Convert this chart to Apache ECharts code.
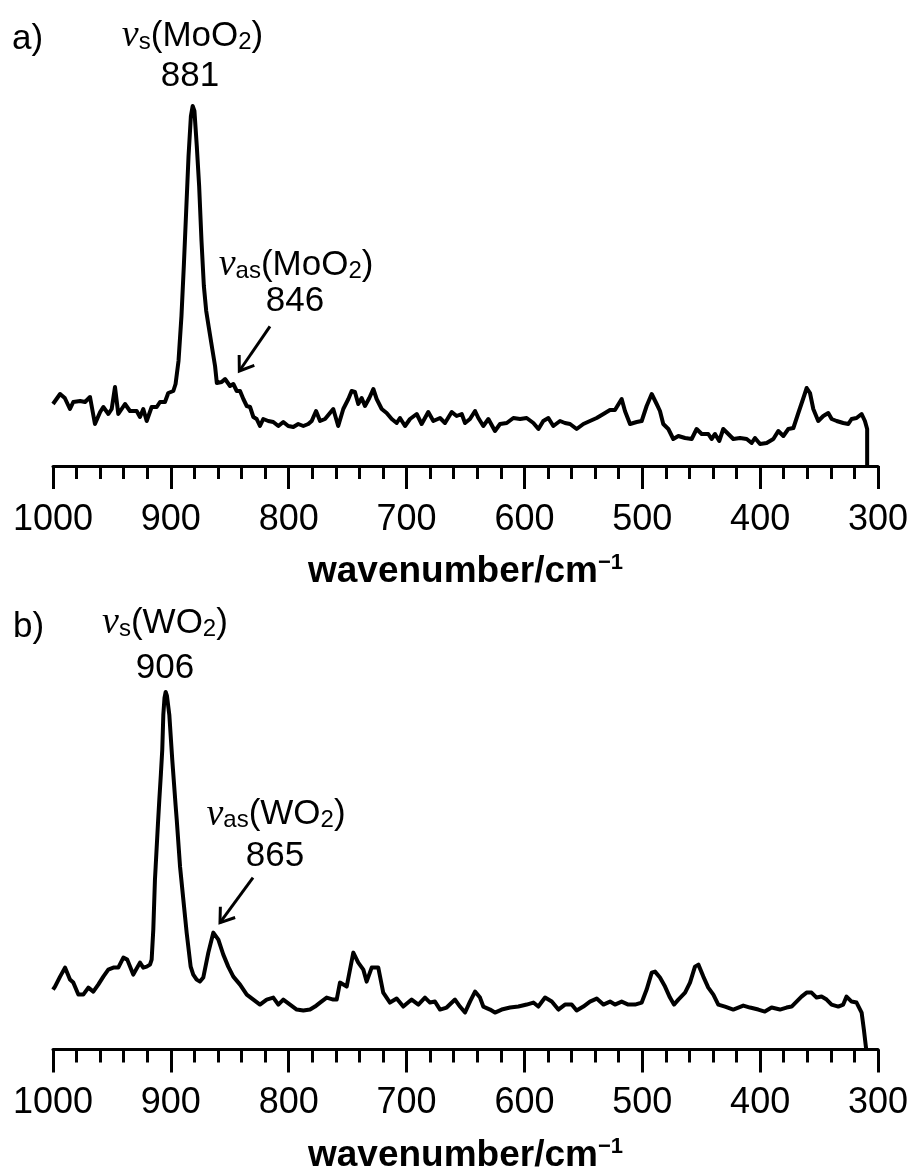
<!DOCTYPE html>
<html>
<head>
<meta charset="utf-8">
<script src="https://cdn.jsdelivr.net/npm/echarts@6/dist/echarts.min.js"></script>
<style>
    html, body { margin: 0; padding: 0; background: #fff; }
    #chart { width: 913px; height: 1175px; }
</style>
</head>
<body>
<div id="chart"></div>
<script>
// wavenumber axis (cm-1), drawn high -> low
var wavenumberTicks = [1000, 900, 800, 700, 600, 500, 400, 300];

// a) Mo complex, [wavenumber, intensity a.u.]
var spectrumMo = [
    [1000, 62], [994, 72], [990, 68], [985.6, 57], [982.8, 64], [977, 65], [972.8, 64], [968.6, 69],
    [964.4, 42], [960, 54], [957.3, 59], [953, 52], [950.2, 57], [947.4, 79], [944.6, 52], [938.9, 62],
    [934.7, 55], [929, 55], [926.2, 49], [923.4, 57], [920.5, 45], [916.3, 59], [912, 59], [909.2, 64],
    [905, 64], [902.2, 73], [897.9, 75], [896, 82], [893.5, 105], [891, 150], [889, 200], [887, 255],
    [885, 310], [883, 350], [881.5, 360], [880, 355], [878, 320], [876, 280], [874, 225], [872, 180],
    [870, 155], [868, 140], [865, 118], [862.5, 100], [861, 83], [856.9, 84], [854, 87], [849.8, 80],
    [847, 82], [844.1, 75], [841.3, 75], [838.5, 67], [835.6, 60], [832.8, 59], [830, 49], [827.2, 47],
    [824.4, 40], [821.6, 47], [817.3, 45], [813.1, 44], [808.8, 40], [804.6, 44], [800.4, 40], [796.1, 39],
    [791.9, 42], [787.6, 40], [783.4, 42], [780.5, 45], [776.8, 55], [773.4, 45], [769.2, 47], [765, 53],
    [762.2, 57], [758, 40], [753.7, 57], [749.4, 67], [746.6, 75], [743.8, 74], [741, 62], [738.1, 68],
    [735.3, 60], [731.6, 68], [728.2, 77], [725.4, 67], [721.1, 57], [716.9, 53], [712.6, 47], [708.4, 43],
    [705.6, 48], [701.3, 40], [697.1, 47], [691.4, 52], [687.2, 42], [681.6, 54], [677.3, 45], [671.6, 48],
    [667.4, 43], [661.7, 54], [657.5, 50], [653.2, 52], [650.4, 43], [646.2, 47], [641.9, 55], [639.1, 48],
    [634.9, 40], [630.6, 47], [625, 35], [620.7, 42], [615, 43], [609.4, 48], [603.7, 47], [598.1, 48],
    [592.4, 43], [588.1, 37], [584, 45], [579.7, 48], [575.5, 40], [569.8, 45], [565.6, 43], [561.3, 42],
    [555.7, 37], [550, 42], [544.4, 45], [538.7, 48], [533, 52], [527.4, 56], [523.2, 56], [517.5, 67],
    [514.7, 55], [510.4, 42], [504.7, 44], [500.5, 45], [496.3, 60], [492, 72], [487.8, 62], [485, 55],
    [482.2, 42], [477.9, 37], [473.7, 27], [469.4, 30], [463.7, 28], [458.1, 27], [453.9, 37], [449.6, 32],
    [444, 32], [441.2, 27], [438.3, 32], [434.7, 25], [431.3, 37], [427, 32], [422.8, 27], [417.1, 28],
    [411.4, 27], [407.2, 23], [404.4, 28], [400.1, 22], [394.5, 23], [388.8, 27], [384.6, 35], [380.3, 30],
    [376.1, 37], [371.8, 38], [367.6, 53], [363.3, 68], [360.5, 78], [357.7, 73], [354.9, 57], [350.7, 45],
    [346.4, 50], [342.2, 53], [339.3, 47], [335.1, 45], [329.5, 43], [325.2, 42], [322.4, 47], [318.2, 48],
    [313.9, 52], [311.1, 45], [309.2, 37], [309.2, 0]
];

// b) W complex
var spectrumW = [
    [1000, 60], [998.3, 63], [994, 73], [989.8, 82], [985.6, 70], [982.8, 67], [978.5, 55], [974.3, 55],
    [970, 62], [965.8, 58], [961.6, 65], [957.3, 73], [953.1, 80], [948.8, 82], [944.6, 82], [940.3, 92],
    [937, 90], [931.9, 75], [926.2, 87], [923.4, 82], [920.5, 83], [917.7, 85], [916.3, 90], [914.9, 120],
    [913.5, 170], [912.9, 183], [911, 225], [909.8, 250], [908.5, 275], [907.3, 300], [906.4, 335], [905.4, 352],
    [904.4, 358], [903.3, 354], [901.3, 335], [898.8, 290], [896, 245], [895, 230], [892.2, 183], [889.4, 150],
    [886.6, 117], [883.2, 83], [881, 75], [878.1, 70], [875.3, 68], [872.5, 72], [868.2, 97], [864, 117],
    [859.7, 110], [855.5, 95], [851.3, 83], [847, 73], [841.3, 65], [835.6, 55], [830, 50], [824.4, 45],
    [818.7, 50], [813.1, 52], [808.8, 45], [804.6, 50], [798.9, 45], [793.2, 40], [787.6, 39], [781.9, 40],
    [777.7, 43], [773.4, 47], [767.8, 52], [762.2, 50], [759.3, 50], [756.5, 67], [750.8, 63], [745.2, 97],
    [741, 87], [736.7, 80], [733.9, 68], [729.6, 82], [724, 82], [719.8, 57], [714.1, 47], [708.4, 51],
    [702.8, 43], [695.7, 50], [690, 45], [684.4, 52], [680.1, 47], [675.9, 48], [671.6, 40], [666, 42],
    [658.9, 50], [654.7, 43], [650.4, 37], [646.2, 48], [641.9, 58], [637.7, 52], [634.9, 43], [629.2, 40],
    [625, 37], [619.3, 40], [612.2, 42], [605.1, 43], [598.1, 45], [592.4, 47], [588.2, 43], [582.5, 52],
    [576.8, 48], [571.2, 40], [565.6, 45], [559.9, 45], [555.7, 39], [550, 43], [544.4, 48], [538.7, 51],
    [533, 45], [527.4, 48], [523.2, 45], [517.5, 48], [511.9, 45], [506.2, 45], [500.5, 47], [496.3, 60],
    [492, 77], [489.2, 78], [485, 72], [480.7, 63], [476.5, 52], [473.1, 45], [469.4, 50], [463.7, 57],
    [459.5, 67], [455.3, 83], [452.4, 85], [448.2, 73], [444, 62], [439.7, 55], [435.5, 45], [429.8, 43],
    [422.8, 40], [418.5, 42], [414.3, 44], [408.6, 42], [401.6, 40], [396, 38], [390.3, 42], [383.2, 40],
    [377.6, 42], [373.3, 43], [369.1, 48], [364.9, 53], [360.6, 57], [356.4, 57], [352.1, 52], [347.9, 53],
    [343.6, 50], [339.4, 45], [333.7, 43], [329.5, 45], [326.7, 53], [322.4, 48], [318.2, 47], [313.9, 37],
    [312, 20], [310, 0]
];

// annotations, placed in data space: [text, wavenumber, intensity, align]
var notesMo = [
    ['a)', 1034.8, 427, 'left'],
    ['{nu|ν}{sub|s}(MoO{sub|2})', 881.6, 430, 'center'],
    ['881', 883.8, 390, 'center'],
    ['{nu|ν}{sub|as}(MoO{sub|2})', 793.8, 201, 'center'],
    ['846', 794.7, 165, 'center']
];
var arrowMo = [[815.9, 139.7], [841.9, 95]];

var notesW = [
    ['b)', 1033.9, 423, 'left'],
    ['{nu|ν}{sub|s}(WO{sub|2})', 905, 427, 'center'],
    ['906', 905, 382, 'center'],
    ['{nu|ν}{sub|as}(WO{sub|2})', 810.8, 235, 'center'],
    ['865', 811.6, 193, 'center']
];
var arrowW = [[830.3, 172], [858.3, 127]];

var FONT = '"Liberation Sans", Arial, sans-serif';
var richText = {
    nu: { fontFamily: '"Liberation Serif", "Times New Roman", serif', fontStyle: 'italic', fontSize: 38, lineHeight: 36, fill: '#000' },
    sub: { fontFamily: FONT, fontSize: 24, lineHeight: 20, verticalAlign: 'bottom', fill: '#000' }
};

var chart = echarts.init(document.getElementById('chart'));

function makeXAxis(gridIndex) {
    return {
        gridIndex: gridIndex,
        type: 'value',
        inverse: true,
        min: wavenumberTicks[wavenumberTicks.length - 1],
        max: wavenumberTicks[0],
        interval: wavenumberTicks[0] - wavenumberTicks[1],
        name: '{b|wavenumber/cm}{sup|\u22121}',
        nameLocation: 'middle',
        nameGap: 86,
        nameTextStyle: {
            rich: {
                b: { fontFamily: FONT, fontWeight: 'bold', fontSize: 37, color: '#000', lineHeight: 40 },
                sup: { fontFamily: FONT, fontWeight: 'bold', fontSize: 22, color: '#000', lineHeight: 20, verticalAlign: 'top' }
            }
        },
        axisLine: { lineStyle: { color: '#000', width: 3 } },
        axisTick: { length: 23, lineStyle: { color: '#000', width: 3 } },
        minorTick: { show: true, splitNumber: 5, length: 13, lineStyle: { color: '#000', width: 3 } },
        splitLine: { show: false },
        axisLabel: {
            fontFamily: FONT, fontSize: 36, color: '#000', margin: 36,
            formatter: function(v) { return String(v); }
        }
    };
}

function makeYAxis(gridIndex, top) {
    return { gridIndex: gridIndex, type: 'value', min: 0, max: top, show: false };
}

function makeSeries(idx, data) {
    return {
        type: 'line',
        xAxisIndex: idx,
        yAxisIndex: idx,
        data: data,
        showSymbol: false,
        symbol: 'none',
        lineStyle: { color: '#000', width: 4, join: 'round' },
        animation: false
    };
}

chart.setOption({
    backgroundColor: '#fff',
    animation: false,
    grid: [
        { left: 53, right: 35, top: 100, bottom: 709 },
        { left: 53, right: 35, top: 680, bottom: 125 }
    ],
    xAxis: [makeXAxis(0), makeXAxis(1)],
    yAxis: [makeYAxis(0, 366), makeYAxis(1, 370)],
    series: [makeSeries(0, spectrumMo), makeSeries(1, spectrumW)]
});

function buildNotes(gridIndex, notes, arrow) {
    var els = [];
    notes.forEach(function(n) {
        var p = chart.convertToPixel({ gridIndex: gridIndex }, [n[1], n[2]]);
        els.push({
            type: 'text',
            x: p[0],
            y: p[1],
            style: {
                text: n[0],
                fontFamily: FONT,
                fontSize: 35,
                lineHeight: 36,
                fill: '#000',
                align: n[3],
                textAlign: n[3],
                verticalAlign: 'middle',
                textVerticalAlign: 'middle',
                rich: richText
            }
        });
    });
    // arrow: shaft + open head at the peak end
    var a = chart.convertToPixel({ gridIndex: gridIndex }, arrow[0]);
    var b = chart.convertToPixel({ gridIndex: gridIndex }, arrow[1]);
    var ang = Math.atan2(a[1] - b[1], a[0] - b[0]);
    var len = 16, spread = 35 * Math.PI / 180;
    els.push({
        type: 'line',
        shape: { x1: a[0], y1: a[1], x2: b[0], y2: b[1] },
        style: { stroke: '#000', lineWidth: 3 }
    });
    els.push({
        type: 'polyline',
        shape: {
            points: [
                [b[0] + len * Math.cos(ang - spread), b[1] + len * Math.sin(ang - spread)],
                b,
                [b[0] + len * Math.cos(ang + spread), b[1] + len * Math.sin(ang + spread)]
            ]
        },
        style: { stroke: '#000', lineWidth: 3, fill: null }
    });
    return els;
}

chart.setOption({
    graphic: buildNotes(0, notesMo, arrowMo).concat(buildNotes(1, notesW, arrowW))
});
</script>
</body>
</html>
